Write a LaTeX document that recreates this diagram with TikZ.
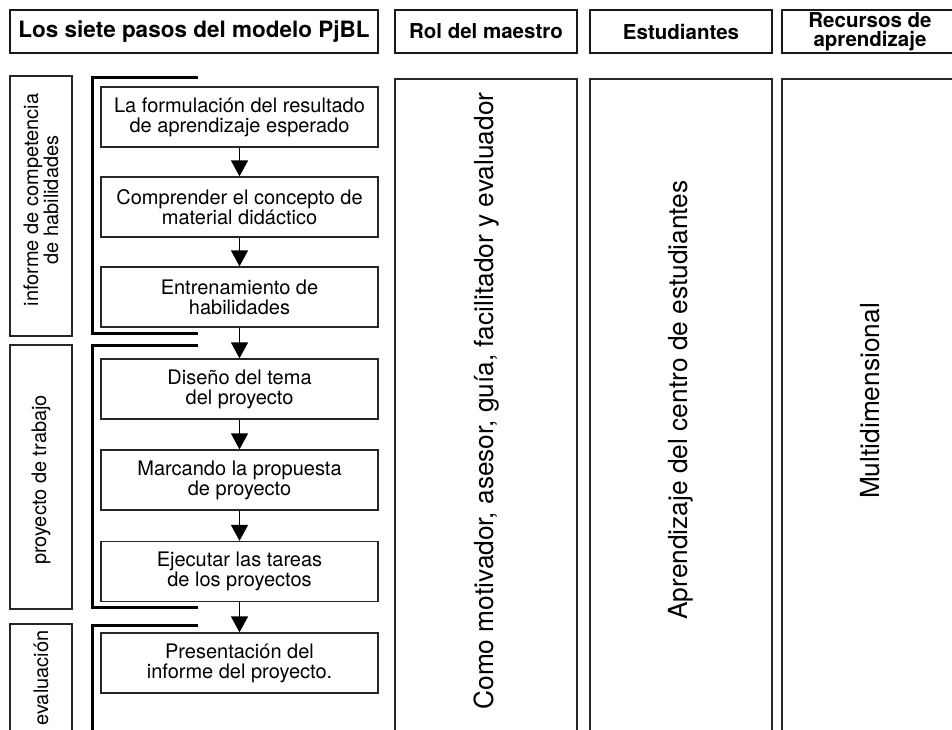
\documentclass[tikz,border=0pt]{standalone}
\usepackage{fontspec}
\setmainfont{TeX Gyre Heros}
\usetikzlibrary{arrows.meta}
\tikzset{
  hdr/.style={draw=black!90, line width=1.8pt, inner sep=0pt, align=center,
    font=\bfseries\fontsize{20.5}{19}\selectfont},
  colbox/.style={draw=black!85, line width=1.6pt, inner sep=0pt},
  labbox/.style={draw=black!85, line width=1.6pt, inner sep=0pt, minimum width=62pt},
  stepbox/.style={draw=black!85, line width=1.3pt, inner sep=0pt, align=center,
    minimum width=277pt, minimum height=60pt, font=\fontsize{20}{20}\selectfont},
  vtext/.style={rotate=90, inner sep=0pt, align=center, font=\fontsize{20}{20}\selectfont},
  bigv/.style={rotate=90, inner sep=0pt, font=\fontsize{26.3}{28}\selectfont},
  bracket/.style={line width=3pt, draw=black},
  arr/.style={line width=1.5pt, -{Triangle[width=17pt,length=16pt]}},
}
\begin{document}
\begin{tikzpicture}[x=1pt,y=-1pt]
\useasboundingbox (0,0) rectangle (952,730);
\clip (0,0) rectangle (952,730);
% headers
\node[hdr, minimum width=368pt, minimum height=43pt, font=\bfseries\fontsize{22.5}{22}\selectfont] (h1) at (194,31.5) {Los siete pasos del modelo PjBL};
\node[hdr, minimum width=182pt, minimum height=43pt] (h2) at (486,31.5) {Rol del maestro};
\node[hdr, minimum width=182pt, minimum height=43pt] (h3) at (681,31.5) {Estudiantes};
\node[hdr, minimum width=176pt, minimum height=43pt] (h4) at (870,31.5) {Recursos de\\aprendizaje};
% columns
\node[colbox, minimum width=182pt, minimum height=700pt, anchor=north] (c2) at (486,78) {};
\node[colbox, minimum width=182pt, minimum height=700pt, anchor=north] (c3) at (681,78) {};
\node[colbox, minimum width=176pt, minimum height=700pt, anchor=north] (c4) at (870,78) {};
\node[bigv] (t2) at (487,401) {Como motivador, asesor, guía, facilitador y evaluador};
\node[bigv] (t3) at (681,400) {Aprendizaje del centro de estudiantes};
\node[bigv] (t4) at (870,401) {Multidimensional};
% left labels
\node[labbox, minimum height=260pt, anchor=north] (l1) at (41,75) {};
\node[labbox, minimum height=264pt, anchor=north] (l2) at (41,344) {};
\node[labbox, minimum height=200pt, anchor=north] (l3) at (41,623) {};
\node[vtext] (lt1) at (41,200) {informe de competencia\\de habilidades};
\node[vtext] (lt2) at (41,480) {proyecto de trabajo};
\node[vtext] (lt3) at (41,678) {evaluación};
% brackets
\draw[bracket] (198,78) -| (92,333) -- (198,333);
\draw[bracket] (198,345) -| (92,607) -- (198,607);
\draw[bracket] (198,625) -| (92,760);
% steps
\node[stepbox] (s1) at (239.5,117) {La formulación del resultado\\de aprendizaje esperado};
\node[stepbox] (s2) at (239.5,207) {Comprender el concepto de\\material didáctico};
\node[stepbox] (s3) at (239.5,297) {Entrenamiento de\\habilidades};
\node[stepbox] (s4) at (239.5,389) {Diseño del tema\\del proyecto};
\node[stepbox] (s5) at (239.5,480) {Marcando la propuesta\\de proyecto};
\node[stepbox] (s6) at (239.5,571.5) {Ejecutar las tareas\\de los proyectos};
\node[stepbox] (s7) at (239.5,663) {Presentación del\\informe del proyecto.};
\foreach \a/\b in {s1/s2,s2/s3,s3/s4,s4/s5,s5/s6,s6/s7}
  \draw[arr] (\a.south) -- (\b.north);
\end{tikzpicture}
\end{document}
